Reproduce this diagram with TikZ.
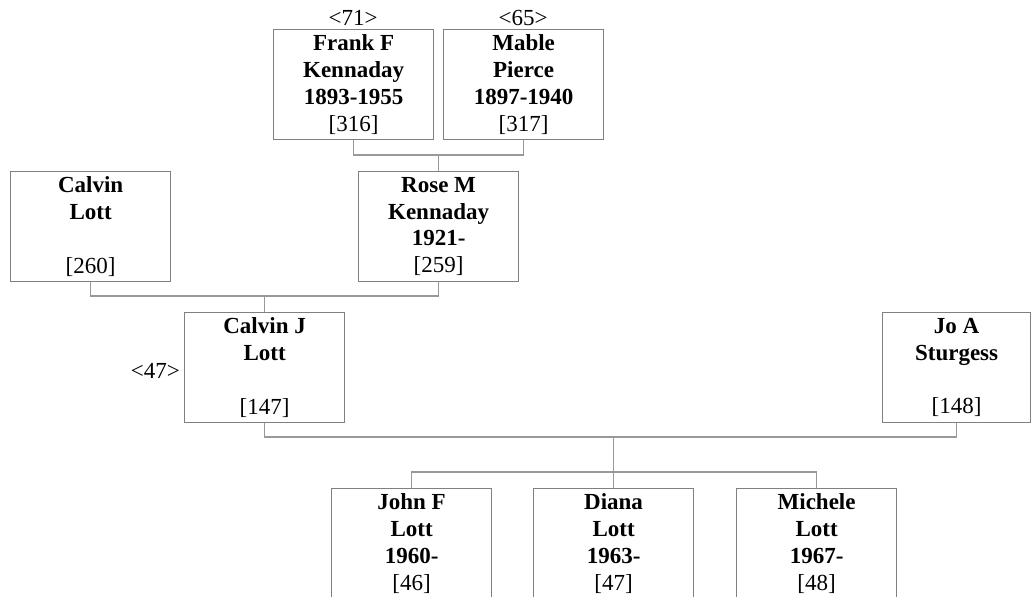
\documentclass[tikz,border=0pt]{standalone}
\usepackage{fontspec}
\setmainfont{Liberation Serif}
\definecolor{boxgray}{HTML}{808080}
\definecolor{linegray}{HTML}{999999}
\tikzset{
  person/.style={draw=boxgray, line width=1.2pt, minimum width=160pt, minimum height=110pt,
    anchor=north west, align=center, inner sep=0pt, font=\fontsize{23}{26.7}\selectfont},
  conn/.style={draw=linegray, line width=1.2pt},
  tag/.style={font=\fontsize{23}{26.7}\selectfont, inner sep=0pt}
}
\begin{document}
\begin{tikzpicture}[x=1pt,y=-1pt]
\useasboundingbox (0,0) rectangle (1031,597);
\clip (0,0) rectangle (1031,597);
% generation 1
\node[person] (frank) at (273,29) {\textbf{Frank F}\\\textbf{Kennaday}\\\textbf{1893-1955}\\{}[316]};
\node[person] (mable) at (443,29) {\textbf{Mable}\\\textbf{Pierce}\\\textbf{1897-1940}\\{}[317]};
\node[tag, anchor=base] (t71) at (353,25) {<71>};
\node[tag, anchor=base] (t65) at (523,25) {<65>};
% generation 2
\node[person] (calvin) at (10,171) {\textbf{Calvin}\\\textbf{Lott}\\\mbox{}\\{}[260]};
\node[person] (rose) at (358,171) {\textbf{Rose M}\\\textbf{Kennaday}\\\textbf{1921-}\\{}[259]};
% generation 3
\node[person] (calvinj) at (184,312) {\textbf{Calvin J}\\\textbf{Lott}\\\mbox{}\\{}[147]};
\node[person, minimum width=148pt] (jo) at (882,312) {\textbf{Jo A}\\\textbf{Sturgess}\\\mbox{}\\{}[148]};
\node[tag, anchor=base east] (t47) at (180,378) {<47>};
% generation 4
\node[person] (john) at (331,488) {\textbf{John F}\\\textbf{Lott}\\\textbf{1960-}\\{}[46]};
\node[person] (diana) at (533,488) {\textbf{Diana}\\\textbf{Lott}\\\textbf{1963-}\\{}[47]};
\node[person] (michele) at (736,488) {\textbf{Michele}\\\textbf{Lott}\\\textbf{1967-}\\{}[48]};
% connector levels
\coordinate (y1) at (0,155);
\coordinate (y2) at (0,296);
\coordinate (y3) at (0,437);
\coordinate (y4) at (0,472);
\coordinate (u1) at (rose.north |- y1);
\coordinate (u2) at (calvinj.north |- y2);
\coordinate (u3) at (diana.north |- y3);
\coordinate (u4) at (diana.north |- y4);
% connectors
\draw[conn] (frank.south) |- (u1) -| (mable.south);
\draw[conn] (u1) -- (rose.north);
\draw[conn] (calvin.south) |- (u2) -| (rose.south);
\draw[conn] (u2) -- (calvinj.north);
\draw[conn] (calvinj.south) |- (u3) -| (jo.south);
\draw[conn] (u3) -- (u4);
\draw[conn] (john.north) |- (u4) -| (michele.north);
\draw[conn] (u4) -- (diana.north);
\end{tikzpicture}
\end{document}
